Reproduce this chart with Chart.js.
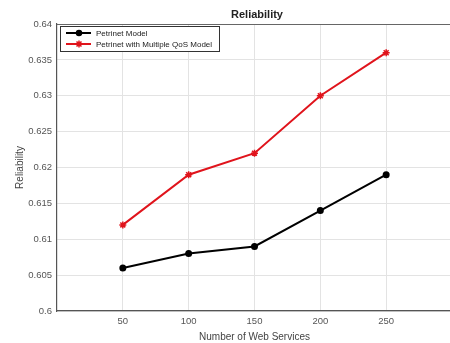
<!DOCTYPE html>
<html>
<head>
<meta charset="utf-8">
<script src="https://cdn.jsdelivr.net/npm/chart.js@4"></script>
<style>
  html, body { margin: 0; padding: 0; background: #fff; overflow: hidden; }
  #wrap { width: 458px; height: 343px; position: relative; }
</style>
</head>
<body>
<div id="wrap"><canvas id="chart"></canvas></div>
<script>
const webServices = [50, 100, 150, 200, 250];
const petrinet = [0.606, 0.608, 0.609, 0.614, 0.619];
const petrinetQos = [0.612, 0.619, 0.622, 0.630, 0.636];
const xTicks = [50, 100, 150, 200, 250];
const yTicks = [0.6, 0.605, 0.61, 0.615, 0.62, 0.625, 0.63, 0.635, 0.64];

const FONT = "'Liberation Sans', Arial, sans-serif";

// title, top box edge and boxed legend in the top-left corner, MATLAB style
const decorations = {
  id: 'decorations',
  afterDraw(chart) {
    const ctx = chart.ctx;
    const area = chart.chartArea;
    ctx.save();
    ctx.strokeStyle = '#666';
    ctx.lineWidth = 1.2;
    ctx.beginPath();
    ctx.moveTo(area.left, area.top + 0.5);
    ctx.lineTo(area.right, area.top + 0.5);
    ctx.stroke();

    ctx.fillStyle = '#222';
    ctx.font = 'bold 11px ' + FONT;
    ctx.textAlign = 'center';
    ctx.textBaseline = 'alphabetic';
    ctx.fillText('Reliability', 257, 18);

    const bx = area.left + 3, by = area.top + 2, bw = 159, bh = 25;
    ctx.fillStyle = '#fff';
    ctx.fillRect(bx, by, bw, bh);
    ctx.strokeStyle = '#333';
    ctx.lineWidth = 1;
    ctx.strokeRect(bx + 0.5, by + 0.5, bw, bh);

    ctx.font = '8px ' + FONT;
    ctx.textAlign = 'left';
    ctx.textBaseline = 'middle';
    chart.data.datasets.forEach((ds, i) => {
      const y = by + 7 + i * 11;
      ctx.strokeStyle = ds.borderColor;
      ctx.fillStyle = ds.borderColor;
      ctx.lineWidth = 2;
      ctx.beginPath();
      ctx.moveTo(bx + 6, y);
      ctx.lineTo(bx + 31, y);
      ctx.stroke();
      ctx.lineWidth = 1.5;
      Chart.helpers.drawPoint(ctx, {
        pointStyle: ds.pointStyle, radius: ds.pointRadius, rotation: 0, borderWidth: 1.5
      }, bx + 19, y);
      ctx.fillStyle = '#222';
      ctx.fillText(ds.label, bx + 36, y + 0.5);
    });
    ctx.restore();
  }
};

new Chart(document.getElementById('chart'), {
  type: 'line',
  data: {
    datasets: [
      {
        label: 'Petrinet Model',
        data: webServices.map((x, i) => ({ x, y: petrinet[i] })),
        borderColor: '#000',
        backgroundColor: '#000',
        borderWidth: 2,
        pointStyle: 'circle',
        pointRadius: 2.5,
        pointBorderColor: '#000',
        pointBackgroundColor: '#000'
      },
      {
        label: 'Petrinet with Multiple QoS Model',
        data: webServices.map((x, i) => ({ x, y: petrinetQos[i] })),
        borderColor: '#e0141c',
        backgroundColor: '#e0141c',
        borderWidth: 2,
        pointStyle: 'star',
        pointRadius: 3.5,
        pointBorderWidth: 1.5,
        pointBorderColor: '#e0141c',
        pointBackgroundColor: '#e0141c'
      }
    ]
  },
  options: {
    responsive: true,
    maintainAspectRatio: false,
    animation: false,
    layout: { padding: { top: 24, left: 0, right: 0, bottom: 0 } },
    plugins: { legend: { display: false }, title: { display: false }, tooltip: { enabled: false } },
    scales: {
      x: {
        type: 'linear',
        min: 0,
        max: 300,
        afterBuildTicks: axis => { axis.ticks = xTicks.map(v => ({ value: v })); },
        afterFit: axis => { axis.height = 32; },
        grid: { color: '#e3e3e3', drawTicks: false, tickLength: 0 },
        border: { color: '#555', width: 1.2 },
        ticks: { color: '#555', font: { family: FONT, size: 9.5 }, padding: 5, maxRotation: 0 },
        title: { display: true, text: 'Number of Web Services', color: '#444', font: { family: FONT, size: 10 }, padding: { top: 0, bottom: 0 } }
      },
      y: {
        min: 0.6,
        max: 0.64,
        afterBuildTicks: axis => { axis.ticks = yTicks.map(v => ({ value: v })); },
        afterFit: axis => { axis.width = 57; },
        grid: { color: '#e3e3e3', drawTicks: false, tickLength: 0 },
        border: { color: '#555', width: 1.2 },
        ticks: { color: '#555', font: { family: FONT, size: 9.5 }, padding: 5, callback: v => String(+v.toFixed(3)) },
        title: { display: true, text: 'Reliability', color: '#444', font: { family: FONT, size: 10 }, padding: { top: 14, bottom: 4 } }
      }
    }
  },
  plugins: [decorations]
});
</script>
</body>
</html>
